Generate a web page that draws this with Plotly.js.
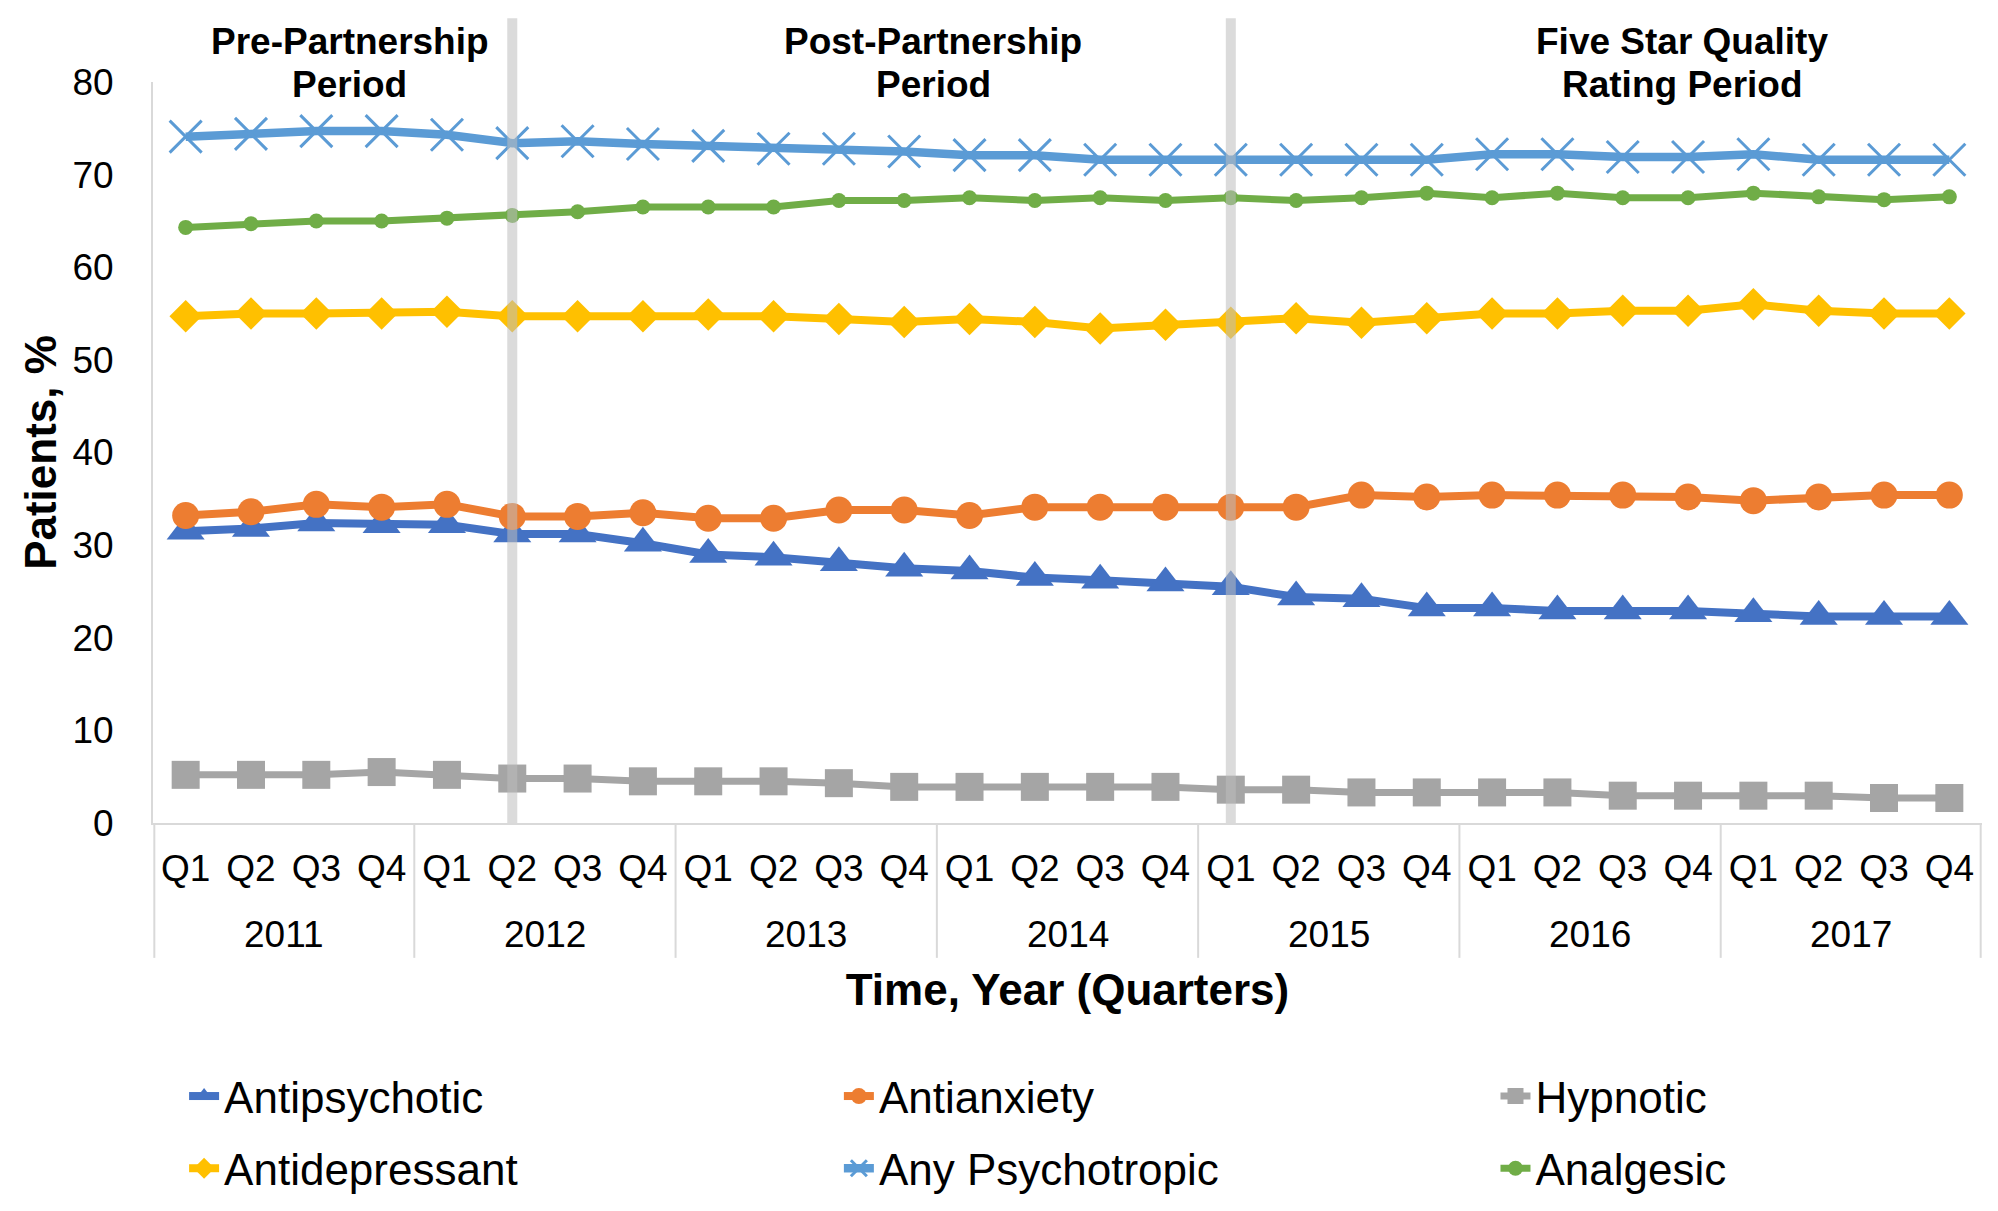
<!DOCTYPE html>
<html>
<head>
<meta charset="utf-8">
<script src="https://cdn.plot.ly/plotly-3.0.1.min.js"></script>
<style>
html,body{margin:0;padding:0;background:#fff;}
#chart{width:1998px;height:1211px;}
</style>
</head>
<body>
<div id="chart"></div>
<script>
// ---- data ----
const years = ['2011','2012','2013','2014','2015','2016','2017'];
const quarters = ['Q1','Q2','Q3','Q4'];

const antipsychotic   = [31.5,31.8,32.4,32.2,32.2,31.2,31.2,30.2,29.0,28.7,28.1,27.5,27.2,26.5,26.2,25.9,25.5,24.4,24.2,23.2,23.2,22.9,22.9,22.9,22.6,22.3,22.3,22.3];
const antianxiety     = [33.2,33.6,34.4,34.1,34.4,33.1,33.1,33.5,32.9,32.9,33.8,33.8,33.2,34.1,34.1,34.1,34.1,34.1,35.4,35.2,35.4,35.4,35.4,35.2,34.8,35.2,35.4,35.4];
const hypnotic        = [5.2,5.2,5.2,5.5,5.2,4.8,4.8,4.5,4.5,4.5,4.3,3.9,3.9,3.9,3.9,3.9,3.6,3.6,3.3,3.3,3.3,3.3,2.95,2.95,2.95,2.95,2.7,2.7];
const antidepressant  = [54.7,55.0,55.0,55.0,55.2,54.7,54.7,54.7,54.9,54.7,54.4,54.1,54.4,54.1,53.4,53.8,54.0,54.5,54.0,54.5,55.0,55.0,55.3,55.3,56.0,55.3,55.0,55.0];
const anyPsychotropic = [74.1,74.4,74.7,74.7,74.3,73.4,73.6,73.3,73.1,72.8,72.8,72.5,72.1,72.1,71.6,71.6,71.6,71.6,71.6,71.6,72.2,72.2,71.9,71.9,72.2,71.6,71.6,71.6];
const analgesic       = [64.3,64.7,65.0,65.0,65.3,65.6,66.0,66.5,66.5,66.5,67.2,67.2,67.5,67.2,67.5,67.2,67.5,67.2,67.5,68.0,67.5,68.0,67.5,67.5,68.0,67.6,67.3,67.6];

const seriesNames = ['Antipsychotic','Antianxiety','Hypnotic','Antidepressant','Any Psychotropic','Analgesic'];
const periodLine1 = ['Pre-Partnership','Post-Partnership','Five Star Quality'];
const periodLine2 = ['Period','Period','Rating Period'];
const periodBoundaries = ['2012 Q2','2015 Q1'];

// ---- categories: one per quarter; quarter shown as tick text, year shown below ----
const xCat = [], xQuarter = [];
years.forEach(y => quarters.forEach(q => { xCat.push(y + ' ' + q); xQuarter.push(q); }));

const FONT = '"Liberation Sans", Arial, Helvetica, sans-serif';

function tr(name, y, color, symbol, size, lw, legend, extraMarker) {
  return {
    type:'scatter', mode:'lines+markers', name:name, x:xCat, y:y,
    line:{color:color, width:lw},
    marker:Object.assign({color:color, symbol:symbol, size:size}, extraMarker||{}),
    legend:legend, legendgroup:name, hoverinfo:'x+y+name'
  };
}

const data = [
  tr(seriesNames[0], antipsychotic,   '#4472C4', 'triangle-up', 33, 8, 'legend'),
  tr(seriesNames[1], antianxiety,     '#ED7D31', 'circle', 27, 8, 'legend2'),
  tr(seriesNames[2], hypnotic,        '#A5A5A5', 'square', 28, 7, 'legend3'),
  tr(seriesNames[3], antidepressant,  '#FFC000', 'diamond', 25, 8, 'legend'),
  tr(seriesNames[4], anyPsychotropic, '#5B9BD5', 'x-thin-open', 32, 8.5, 'legend2', {line:{color:'#5B9BD5', width:3}}),
  tr(seriesNames[5], analgesic,       '#70AD47', 'circle', 15, 7, 'legend3')
];

// ---- shapes: period boundary bands + year dividers under the axis ----
const shapes = [];
periodBoundaries.forEach(c => {
  const i = xCat.indexOf(c);
  shapes.push({
    type:'rect', layer:'above', xref:'x', yref:'paper',
    xsizemode:'pixel', xanchor:i, x0:-5, x1:5, y0:0, y1:1.086,
    fillcolor:'rgba(190,190,190,0.55)', line:{width:0}
  });
});
for (let k = 0; k <= years.length; k++) {
  const pos = k * quarters.length - 0.5;
  const shift = k === 0 ? 0.02 : (k === years.length ? -0.02 : 0);
  shapes.push({
    type:'line', layer:'above', xref:'x', yref:'paper',
    x0:pos + shift, x1:pos + shift, y0:0, y1:-0.182,
    line:{color:'#d9d9d9', width:2}
  });
}

// ---- annotations: year labels + period labels ----
const annotations = [];
years.forEach((y, k) => {
  annotations.push({
    text:y, xref:'x', yref:'paper', x:k * quarters.length + 1.5, y:-0.1511,
    xanchor:'center', yanchor:'middle', showarrow:false,
    font:{family:FONT, size:37, color:'#000'}
  });
});
const periodX = [0.1077, 0.4265, 0.8360];
periodLine1.forEach((t, k) => {
  annotations.push({
    text:t, xref:'paper', yref:'paper', x:periodX[k], y:1.0553,
    xanchor:'center', yanchor:'middle', showarrow:false,
    font:{family:FONT, size:37, color:'#000', weight:'bold'}
  });
  annotations.push({
    text:periodLine2[k], xref:'paper', yref:'paper', x:periodX[k], y:0.9973,
    xanchor:'center', yanchor:'middle', showarrow:false,
    font:{family:FONT, size:37, color:'#000', weight:'bold'}
  });
});

const legBase = {orientation:'v', xanchor:'left', yanchor:'top',
  bgcolor:'rgba(0,0,0,0)', font:{family:FONT, size:44, color:'#000'},
  traceorder:'grouped', tracegroupgap:12, itemwidth:30};

const layout = {
  width:1998, height:1211,
  margin:{l:153, r:16, t:82, b:388, autoexpand:false},
  paper_bgcolor:'#ffffff', plot_bgcolor:'#ffffff',
  font:{family:FONT, color:'#000', size:37},
  showlegend:true,
  xaxis:{
    type:'category', range:[-0.5,27.5],
    tickmode:'array', tickvals:xCat, ticktext:xQuarter,
    showline:true, linecolor:'#d9d9d9', linewidth:2,
    showgrid:false, zeroline:false, ticks:'',
    tickfont:{family:FONT, size:37, color:'#000'},
    ticklabelstandoff:12,
    automargin:false,
    title:{text:'Time, Year (Quarters)', font:{family:FONT, size:44, color:'#000', weight:'bold'}, standoff:86}
  },
  yaxis:{
    range:[0,80], dtick:10, tick0:0,
    showline:true, linecolor:'#d9d9d9', linewidth:2,
    showgrid:false, zeroline:false, ticks:'',
    tickfont:{family:FONT, size:37, color:'#000'},
    ticklabelstandoff:30,
    automargin:false,
    title:{text:'Patients, %', font:{family:FONT, size:44, color:'#000', weight:'bold'}, standoff:2}
  },
  legend: Object.assign({}, legBase, {x:0.017, y:-0.3211}),
  legend2: Object.assign({}, legBase, {x:0.375, y:-0.3211}),
  legend3: Object.assign({}, legBase, {x:0.734, y:-0.3211}),
  shapes:shapes,
  annotations:annotations
};

Plotly.newPlot('chart', data, layout, {displayModeBar:false, staticPlot:true});
</script>
</body>
</html>
